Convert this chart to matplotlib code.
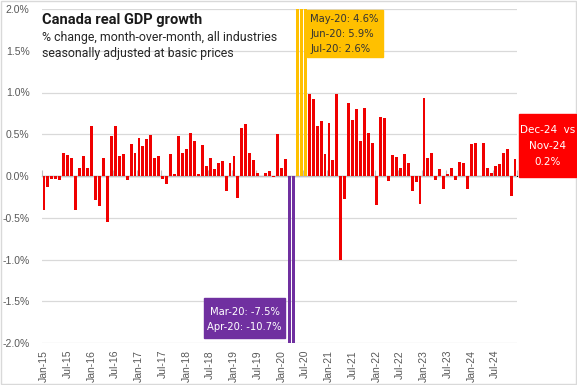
import numpy as np
import pandas as pd
import matplotlib
matplotlib.use("Agg")
import matplotlib.pyplot as plt
from matplotlib.patches import Rectangle

# monthly categories Jan-15 .. Dec-24
months = pd.date_range("2015-01-01", "2024-12-01", freq="MS").strftime("%b-%y").tolist()

# % change m/m
gdp_2015 = [-0.41, -0.13, -0.04, -0.03, -0.05, 0.27, 0.25, 0.21, -0.41, 0.09, 0.24, 0.10]
gdp_2016 = [0.60, -0.29, -0.36, 0.22, -0.55, 0.48, 0.60, 0.24, 0.26, -0.05, 0.38, 0.28]
gdp_2017 = [0.46, 0.36, 0.44, 0.49, 0.22, 0.24, -0.03, -0.10, 0.26, 0.02, 0.48, 0.27]
gdp_2018 = [0.32, 0.52, 0.42, 0.02, 0.37, 0.12, 0.21, 0.08, 0.16, 0.18, -0.18, 0.16]
gdp_2019 = [0.24, -0.26, 0.57, 0.62, 0.27, 0.19, 0.04, 0.00, 0.04, 0.06, -0.01, 0.50]
gdp_2020 = [0.10, 0.20, -7.5, -10.7, 4.6, 5.9, 2.6, 0.98, 0.92, 0.60, 0.66, 0.26]
gdp_2021 = [0.63, 0.19, 0.98, -1.00, -0.28, 0.88, 0.67, 0.80, 0.42, 0.81, 0.52, 0.39]
gdp_2022 = [-0.35, 0.71, 0.70, -0.06, 0.25, 0.23, 0.10, 0.26, 0.15, -0.18, -0.07, -0.33]
gdp_2023 = [0.94, 0.21, 0.27, -0.05, 0.08, -0.15, 0.02, 0.10, -0.05, 0.17, 0.16, -0.16]
gdp_2024 = [0.38, 0.40, 0.00, 0.39, 0.09, 0.03, 0.12, 0.14, 0.27, 0.32, -0.24, 0.20]

values = np.array(gdp_2015 + gdp_2016 + gdp_2017 + gdp_2018 + gdp_2019 +
                  gdp_2020 + gdp_2021 + gdp_2022 + gdp_2023 + gdp_2024)

covid_drop = ["Mar-20", "Apr-20"]
covid_rebound = ["May-20", "Jun-20", "Jul-20"]

RED = "#F00000"
PURPLE = "#7030A0"
GOLD = "#FFC000"

colors = []
for m in months:
    if m in covid_drop:
        colors.append(PURPLE)
    elif m in covid_rebound:
        colors.append(GOLD)
    else:
        colors.append(RED)

W, H = 577, 385
fig = plt.figure(figsize=(W / 100, H / 100), dpi=100)

def fx(x):
    return x / W

def fy(y):
    return 1 - y / H

ax = fig.add_axes([fx(42), fy(343), fx(517) - fx(42), fy(9) - fy(343)])

x = np.arange(len(months))
ax.bar(x, values, width=0.74, color=colors, zorder=3)

ax.set_ylim(-2.0, 2.0)
ax.set_xlim(-0.5, len(months) - 0.5)
ax.set_yticks(np.arange(-2.0, 2.01, 0.5))
ax.set_yticklabels([f"{v:.1f}%" for v in np.arange(-2.0, 2.01, 0.5)],
                   fontsize=7.5, color="#595959", family="Liberation Sans")
ax.tick_params(axis="y", length=0, pad=9)
ax.grid(axis="y", color="#D9D9D9", linewidth=0.9, zorder=0)
for s in ax.spines.values():
    s.set_visible(False)

# category labels at the bottom, every 6 months
ax.set_xticks(x[::6])
ax.set_xticklabels(months[::6], rotation=90, fontsize=7.5, color="#595959",
                   family="Liberation Sans")
ax.tick_params(axis="x", length=0, pad=5)

# zero axis line with small tick marks between categories
ax.axhline(0, color="#BFBFBF", linewidth=0.9, zorder=2)
sec = ax.secondary_xaxis(0.5)
sec.set_xticks(np.arange(-0.5, len(months), 6))
sec.set_xticklabels([])
sec.tick_params(axis="x", length=4, width=0.8, color="#BFBFBF", direction="out")
sec.spines["bottom"].set_visible(False)

# title block
fig.text(fx(42), fy(20), "Canada real GDP growth", fontsize=10.5, weight="bold",
         family="Roboto", color="#1a1a1a", va="center")
fig.text(fx(42), fy(37), "% change, month-over-month, all industries", fontsize=8.9,
         family="Roboto", color="#262626", va="center")
fig.text(fx(42), fy(53), "seasonally adjusted at basic prices", fontsize=8.9,
         family="Roboto", color="#262626", va="center")

# rebound box
fig.patches.append(Rectangle((fx(307), fy(57)), fx(383) - fx(307), fy(10) - fy(57),
                             transform=fig.transFigure, color=GOLD, zorder=5))
for i, m in enumerate(covid_rebound):
    v = values[months.index(m)]
    fig.text(fx(310), fy(19 + 15 * i), f"{m}: {v:.1f}%", fontsize=7.2,
             family="DejaVu Sans", color="#333333", va="center", zorder=6)

# drop box
fig.patches.append(Rectangle((fx(204), fy(338)), fx(285) - fx(204), fy(298) - fy(338),
                             transform=fig.transFigure, color=PURPLE, zorder=5))
for i, m in enumerate(covid_drop):
    v = values[months.index(m)]
    fig.text(fx(244.5), fy(312 + 15 * i), f"{m}: {v:.1f}%", fontsize=7.2,
             family="DejaVu Sans", color="white", va="center", ha="center", zorder=6)

# latest month box
fig.patches.append(Rectangle((fx(519), fy(177)), fx(576) - fx(519), fy(114) - fy(177),
                             transform=fig.transFigure, color="#FF0000", zorder=5))
last = values[-1]
for i, t in enumerate([f"{months[-1]}  vs", months[-2], f"{last:.1f}%"]):
    fig.text(fx(547.5), fy(130 + 16 * i), t, fontsize=7.5, family="DejaVu Sans",
             color="white", va="center", ha="center", zorder=6)

# chart border
fig.patches.append(Rectangle((0.001, 0.002), 0.997, 0.996, transform=fig.transFigure,
                             fill=False, edgecolor="#D9D9D9", linewidth=1))

fig.savefig("out.png", dpi=100)
